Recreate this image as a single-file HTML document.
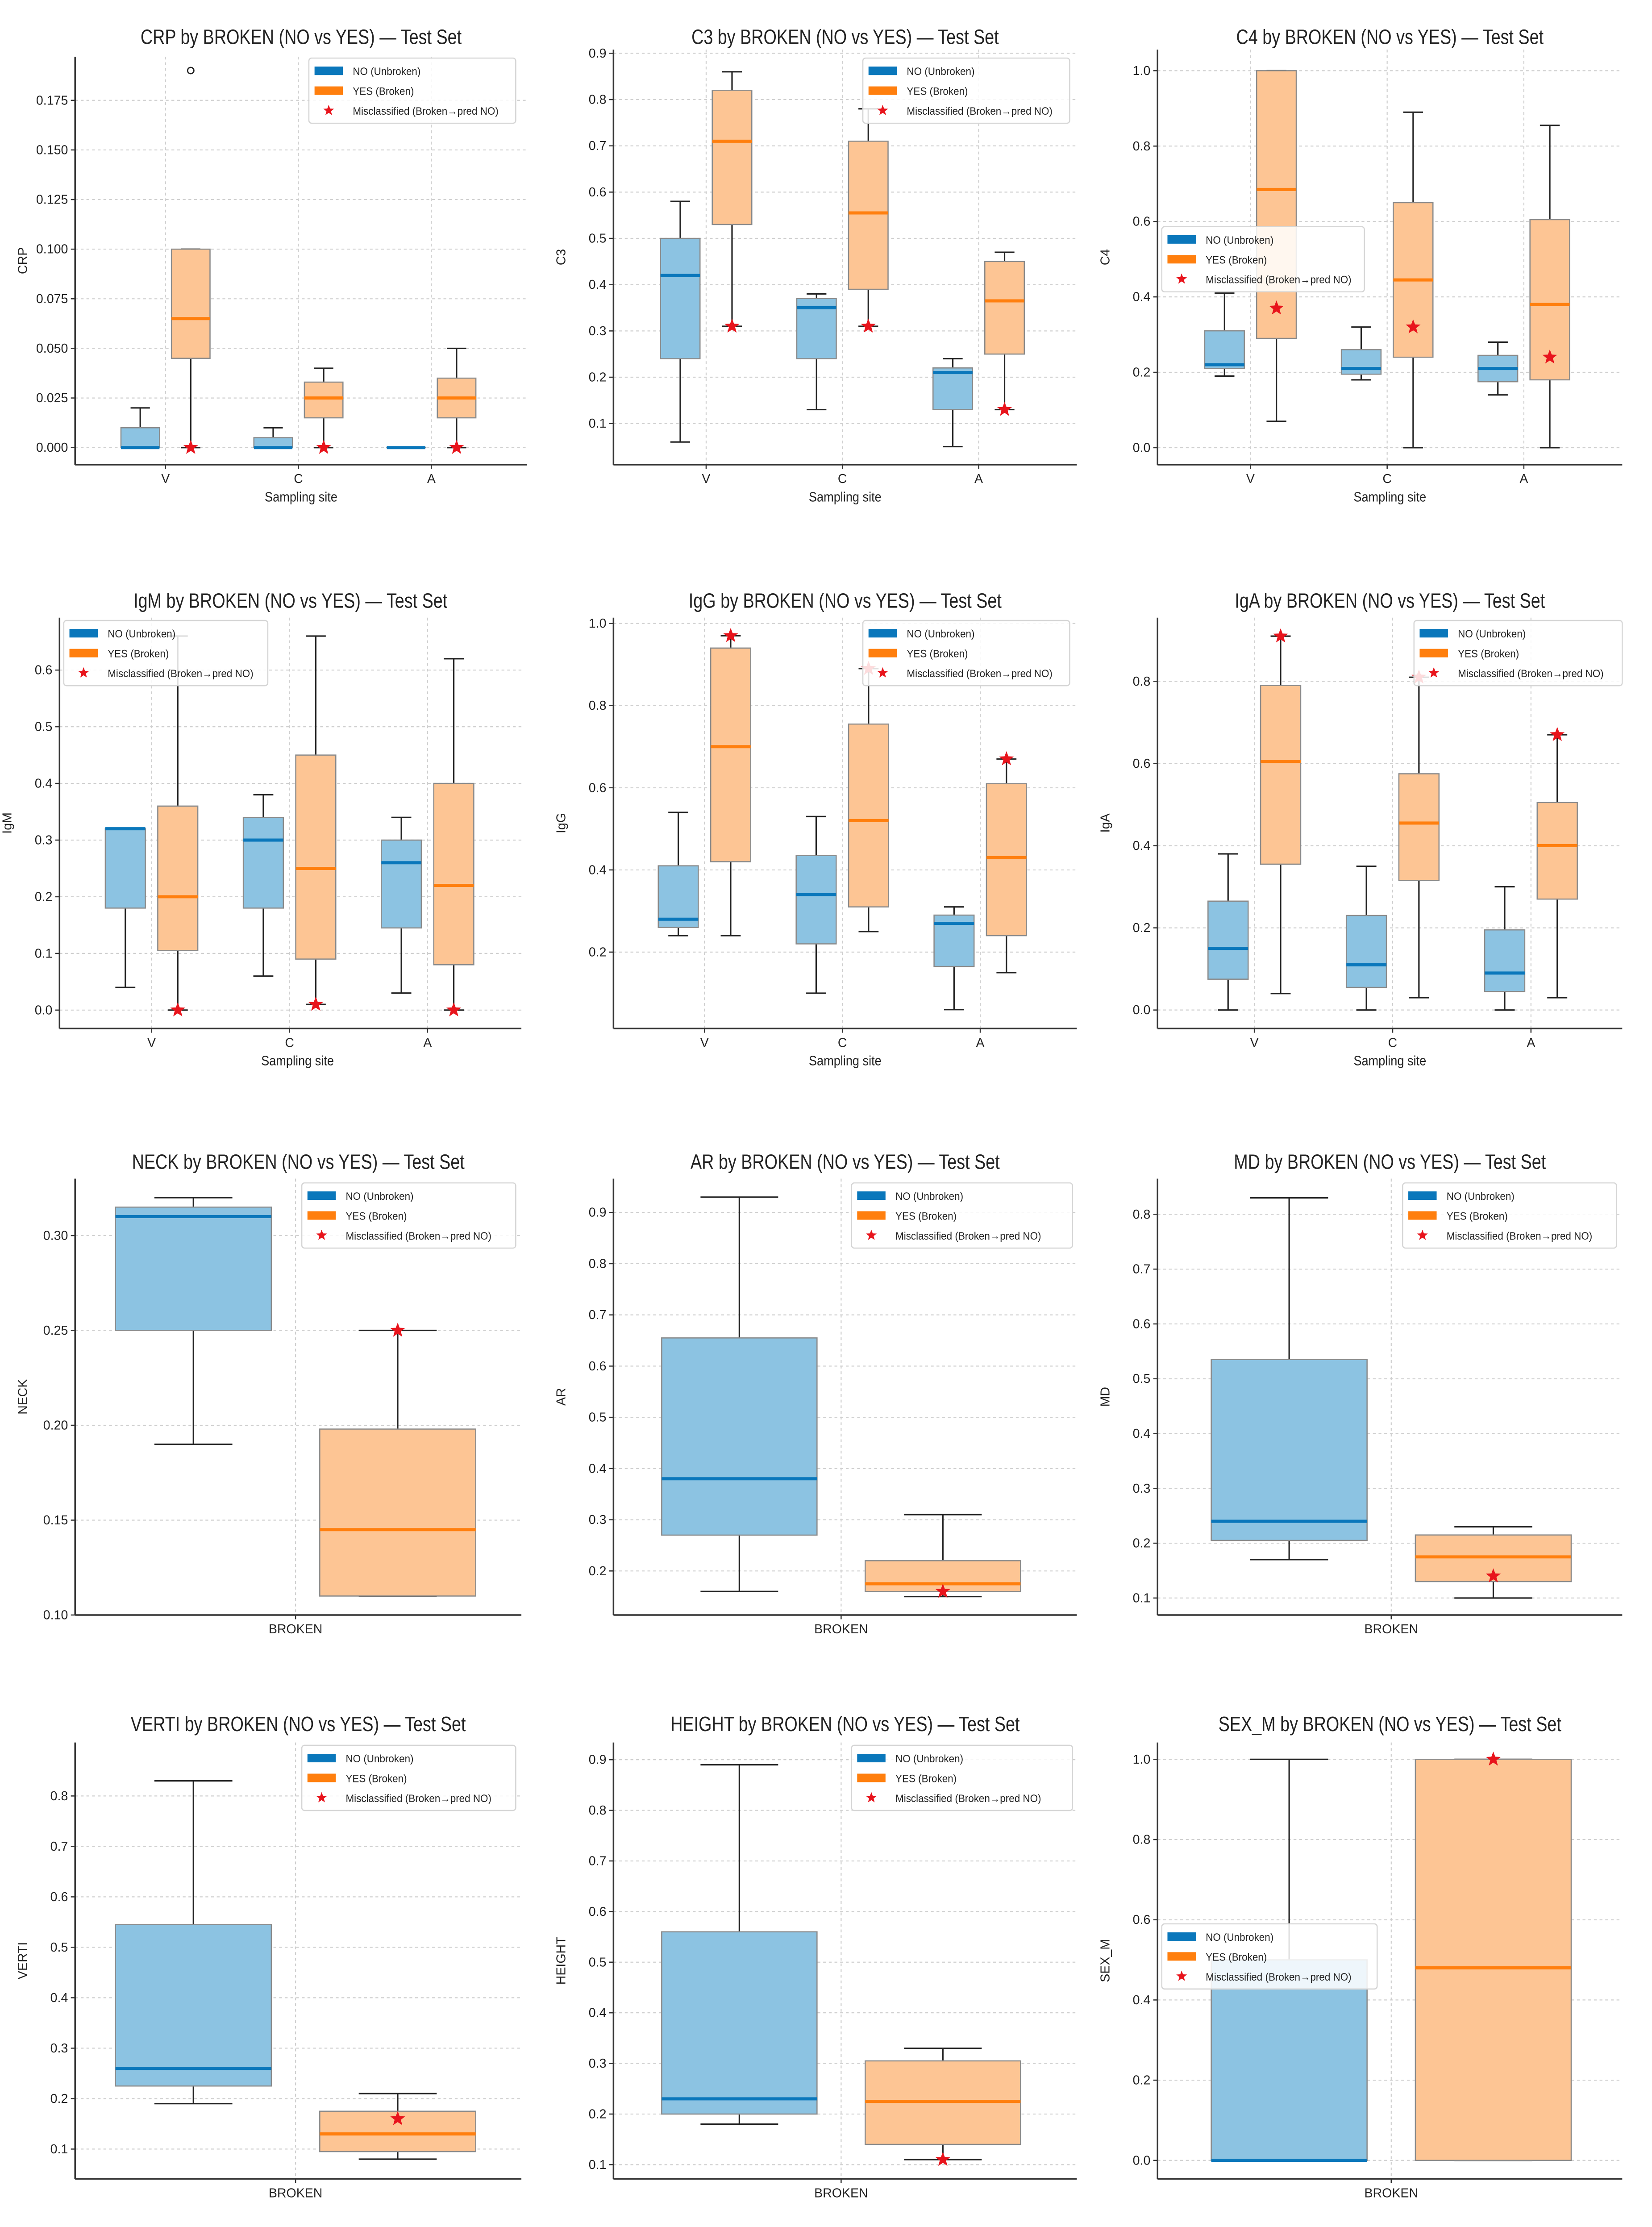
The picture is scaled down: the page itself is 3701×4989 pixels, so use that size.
<!DOCTYPE html>
<html><head><meta charset="utf-8"><style>
html,body{margin:0;padding:0;background:#fff}
svg{display:block}
text{font-family:"Liberation Sans",sans-serif}
</style></head><body>
<svg id="fig" xmlns="http://www.w3.org/2000/svg" width="3701" height="4989" viewBox="0 0 1166 1572" preserveAspectRatio="none"></svg>
<script>
// ---- data (stats: [whiskerLow, q1, median, q3, whiskerHigh]) ----
const sites = ["V","C","A"];
const single = ["BROKEN"];
const crpNo = [[0,0,0,0.01,0.02],[0,0,0,0.005,0.01],[0,0,0,0,0]];
const crpYes = [[0,0.045,0.065,0.1,0.1],[0,0.015,0.025,0.033,0.04],[0,0.015,0.025,0.035,0.05]];
const crpStars = [0,0,0];
const crpOutliers = [[0,0.19]];
const crpTicks = [0,0.025,0.05,0.075,0.1,0.125,0.15,0.175];
const c3No = [[0.06,0.24,0.42,0.5,0.58],[0.13,0.24,0.35,0.37,0.38],[0.05,0.13,0.21,0.22,0.24]];
const c3Yes = [[0.31,0.53,0.71,0.82,0.86],[0.31,0.39,0.555,0.71,0.78],[0.13,0.25,0.365,0.45,0.47]];
const c3Stars = [0.31,0.31,0.13];
const c3Ticks = [0.1,0.2,0.3,0.4,0.5,0.6,0.7,0.8,0.9];
const c4No = [[0.19,0.21,0.22,0.31,0.41],[0.18,0.195,0.21,0.26,0.32],[0.14,0.175,0.21,0.245,0.28]];
const c4Yes = [[0.07,0.29,0.685,1.0,1.0],[0,0.24,0.445,0.65,0.89],[0,0.18,0.38,0.605,0.855]];
const c4Stars = [0.37,0.32,0.24];
const c4Ticks = [0,0.2,0.4,0.6,0.8,1.0];
const igmNo = [[0.04,0.18,0.32,0.32,0.32],[0.06,0.18,0.30,0.34,0.38],[0.03,0.145,0.26,0.30,0.34]];
const igmYes = [[0,0.105,0.2,0.36,0.66],[0.01,0.09,0.25,0.45,0.66],[0,0.08,0.22,0.40,0.62]];
const igmStars = [0,0.01,0];
const igmTicks = [0,0.1,0.2,0.3,0.4,0.5,0.6];
const iggNo = [[0.24,0.26,0.28,0.41,0.54],[0.10,0.22,0.34,0.435,0.53],[0.06,0.165,0.27,0.29,0.31]];
const iggYes = [[0.24,0.42,0.70,0.94,0.97],[0.25,0.31,0.52,0.755,0.89],[0.15,0.24,0.43,0.61,0.67]];
const iggStars = [0.97,0.89,0.67];
const iggTicks = [0.2,0.4,0.6,0.8,1.0];
const igaNo = [[0,0.075,0.15,0.265,0.38],[0,0.055,0.11,0.23,0.35],[0,0.045,0.09,0.195,0.30]];
const igaYes = [[0.04,0.355,0.605,0.79,0.91],[0.03,0.315,0.455,0.575,0.81],[0.03,0.27,0.40,0.505,0.67]];
const igaStars = [0.91,0.81,0.67];
const igaTicks = [0,0.2,0.4,0.6,0.8];
const neckNo = [[0.19,0.25,0.31,0.315,0.32]];
const neckYes = [[0.11,0.11,0.145,0.198,0.25]];
const neckStars = [0.25];
const neckTicks = [0.10,0.15,0.20,0.25,0.30];
const arNo = [[0.16,0.27,0.38,0.655,0.93]];
const arYes = [[0.15,0.16,0.175,0.22,0.31]];
const arStars = [0.16];
const arTicks = [0.2,0.3,0.4,0.5,0.6,0.7,0.8,0.9];
const mdNo = [[0.17,0.205,0.24,0.535,0.83]];
const mdYes = [[0.10,0.13,0.175,0.215,0.23]];
const mdStars = [0.14];
const mdTicks = [0.1,0.2,0.3,0.4,0.5,0.6,0.7,0.8];
const vertiNo = [[0.19,0.225,0.26,0.545,0.83]];
const vertiYes = [[0.08,0.095,0.13,0.175,0.21]];
const vertiStars = [0.16];
const vertiTicks = [0.1,0.2,0.3,0.4,0.5,0.6,0.7,0.8];
const heightNo = [[0.18,0.20,0.23,0.56,0.89]];
const heightYes = [[0.11,0.14,0.225,0.305,0.33]];
const heightStars = [0.11];
const heightTicks = [0.1,0.2,0.3,0.4,0.5,0.6,0.7,0.8,0.9];
const sexNo = [[0,0,0,0.5,1]];
const sexYes = [[0,0,0.48,1.0,1.0]];
const sexStars = [1.0];
const sexTicks = [0,0.2,0.4,0.6,0.8,1.0];

// ---- layout ----
const charts = [
 {name:"crp",title:"CRP",cats:sites,no:crpNo,yes:crpYes,stars:crpStars,outl:crpOutliers,ticks:crpTicks,dec:3,ylim:[-0.0086,0.197],box:[53,40,372,328],ty:31,xlim:[-0.68,2.72],leg:[218,41,146]},
 {name:"c3",title:"C3",cats:sites,no:c3No,yes:c3Yes,stars:c3Stars,ticks:c3Ticks,dec:1,ylim:[0.011,0.908],box:[433,35,760,328],ty:31,xlim:[-0.68,2.72],leg:[609,41,146]},
 {name:"c4",title:"C4",cats:sites,no:c4No,yes:c4Yes,stars:c4Stars,ticks:c4Ticks,dec:1,ylim:[-0.045,1.056],box:[817,35,1145,328],ty:31,xlim:[-0.68,2.72],leg:[820,160,143]},
 {name:"igm",title:"IgM",cats:sites,no:igmNo,yes:igmYes,stars:igmStars,ticks:igmTicks,dec:1,ylim:[-0.0325,0.6925],box:[42,436,368,726],ty:429,xlim:[-0.667,2.68],leg:[45,438,144]},
 {name:"igg",title:"IgG",cats:sites,no:iggNo,yes:iggYes,stars:iggStars,ticks:iggTicks,dec:1,ylim:[0.014,1.014],box:[433,436,760,726],ty:429,xlim:[-0.66,2.7],leg:[609,438,146]},
 {name:"iga",title:"IgA",cats:sites,no:igaNo,yes:igaYes,stars:igaStars,ticks:igaTicks,dec:1,ylim:[-0.045,0.955],box:[817,436,1145,726],ty:429,xlim:[-0.7,2.66],leg:[998,438,147]},
 {name:"neck",title:"NECK",cats:single,no:neckNo,yes:neckYes,stars:neckStars,ticks:neckTicks,dec:2,ylim:[0.10,0.33],box:[53,832,368,1140],ty:825,xlim:[-0.41,0.42],leg:[213,835,151]},
 {name:"ar",title:"AR",cats:single,no:arNo,yes:arYes,stars:arStars,ticks:arTicks,dec:1,ylim:[0.114,0.966],box:[433,832,760,1140],ty:825,xlim:[-0.425,0.44],leg:[601,835,156]},
 {name:"md",title:"MD",cats:single,no:mdNo,yes:mdYes,stars:mdStars,ticks:mdTicks,dec:1,ylim:[0.069,0.865],box:[817,832,1145,1140],ty:825,xlim:[-0.435,0.43],leg:[990,835,151]},
 {name:"verti",title:"VERTI",cats:single,no:vertiNo,yes:vertiYes,stars:vertiStars,ticks:vertiTicks,dec:1,ylim:[0.041,0.906],box:[53,1230,368,1538],ty:1222,xlim:[-0.41,0.42],leg:[213,1232,151]},
 {name:"height",title:"HEIGHT",cats:single,no:heightNo,yes:heightYes,stars:heightStars,ticks:heightTicks,dec:1,ylim:[0.072,0.934],box:[433,1230,760,1538],ty:1222,xlim:[-0.425,0.44],leg:[601,1232,156]},
 {name:"sex-m",title:"SEX_M",cats:single,no:sexNo,yes:sexYes,stars:sexStars,ticks:sexTicks,dec:1,ylim:[-0.046,1.042],box:[817,1230,1145,1538],ty:1222,xlim:[-0.435,0.43],leg:[820,1358,152]}
];
const NS="http://www.w3.org/2000/svg";
const svg=document.getElementById('fig');
function mk(tag,attrs,parent,txt){const e=document.createElementNS(NS,tag);for(const k in attrs)e.setAttribute(k,attrs[k]);if(txt!==undefined)e.textContent=txt;parent.appendChild(e);return e;}
function squeeze(el,f){const w=el.getComputedTextLength();if(w>0){el.setAttribute('textLength',(w*f).toFixed(2));el.setAttribute('lengthAdjust','spacingAndGlyphs');}}
function starPts(cx,cy,r){let p=[];for(let i=0;i<10;i++){const a=-Math.PI/2+i*Math.PI/5;const rr=i%2?r*0.42:r;p.push((cx+rr*Math.cos(a)).toFixed(2)+","+(cy+rr*Math.sin(a)).toFixed(2));}return p.join(" ");}

charts.forEach(c=>{
 const [L,T,R,B]=c.box;
 const g=mk('g',{},svg);
 
 
 const Y=v=>B-(v-c.ylim[0])/(c.ylim[1]-c.ylim[0])*(B-T);
 const X=v=>L+(v-c.xlim[0])/(c.xlim[1]-c.xlim[0])*(R-L);
 const pxu=(R-L)/(c.xlim[1]-c.xlim[0]);
 // title
 const t=mk('text',{x:(L+R)/2,y:c.ty,'text-anchor':'middle','font-size':14.5,fill:'#222'},g,c.title+" by BROKEN (NO vs YES) \u2014 Test Set");
 
 
 squeeze(t,0.82);
 // y grid & ticks
 c.ticks.forEach(v=>{
  const y=Y(v);
  mk('line',{x1:L,x2:R,y1:y,y2:y,stroke:'#cfcfcf','stroke-width':0.7,'stroke-dasharray':'2,2'},g);
  mk('line',{x1:L-3,x2:L,y1:y,y2:y,stroke:'#333','stroke-width':0.8},g);
  const tl=mk('text',{x:L-5,y:y+3,'text-anchor':'end','font-size':9,fill:'#222'},g,v.toFixed(c.dec));
  
  
 });
 // x grid & ticks
 c.cats.forEach((cat,i)=>{
  const x=X(i);
  mk('line',{x1:x,x2:x,y1:T,y2:B,stroke:'#cfcfcf','stroke-width':0.7,'stroke-dasharray':'2,2'},g);
  mk('line',{x1:x,x2:x,y1:B,y2:B+3,stroke:'#333','stroke-width':0.8},g);
  const xl=mk('text',{x:x,y:B+13,'text-anchor':'middle','font-size':9,fill:'#222'},g,cat);
  
  
 });
 // boxes
 const off=0.19, w=0.29;
 const drawBox=(s,cx,fill,medc,nm)=>{
  const bg=mk('g',{},g);
  
  
  const hw=w*pxu/2, cw=hw/2, x=X(cx);
  mk('line',{x1:x,x2:x,y1:Y(s[0]),y2:Y(s[1]),stroke:'#222','stroke-width':1},bg);
  mk('line',{x1:x,x2:x,y1:Y(s[3]),y2:Y(s[4]),stroke:'#222','stroke-width':1},bg);
  mk('line',{x1:x-cw,x2:x+cw,y1:Y(s[0]),y2:Y(s[0]),stroke:'#222','stroke-width':1},bg);
  mk('line',{x1:x-cw,x2:x+cw,y1:Y(s[4]),y2:Y(s[4]),stroke:'#222','stroke-width':1},bg);
  mk('rect',{x:x-hw,y:Y(s[3]),width:2*hw,height:Math.max(0.01,Y(s[1])-Y(s[3])),fill:fill,stroke:'#8a8a8a','stroke-width':0.8},bg);
  mk('line',{x1:x-hw,x2:x+hw,y1:Y(s[2]),y2:Y(s[2]),stroke:medc,'stroke-width':2.2},bg);
 };
 c.cats.forEach((cat,i)=>{
  drawBox(c.no[i],i-off,'#8cc3e2','#0a77bb','no-box-'+cat.toLowerCase());
  drawBox(c.yes[i],i+off,'#fdc594','#ff7f0e','yes-box-'+cat.toLowerCase());
 });
 (c.outl||[]).forEach(o=>{
  const oc=mk('circle',{cx:X(o[0]+off),cy:Y(o[1]),r:2.2,fill:'none',stroke:'#222','stroke-width':0.9},g);
  
  
 });
 c.stars.forEach((v,i)=>{
  const st=mk('polygon',{points:starPts(X(i+off),Y(v),5.5),fill:'#e8141c'},g);
  
  
 });
 // spines
 mk('line',{x1:L,x2:L,y1:T,y2:B,stroke:'#333','stroke-width':1.1},g);
 mk('line',{x1:L,x2:R,y1:B,y2:B,stroke:'#333','stroke-width':1.1},g);
 // axis labels
 const yl=mk('text',{x:0,y:0,transform:`translate(${L-34},${(T+B)/2}) rotate(-90)`,'text-anchor':'middle','font-size':9,fill:'#222'},g,c.title);
 
 
 if(c.cats.length>1){
  const xt=mk('text',{x:(L+R)/2+ (c.name==='igm'?5:0),y:B+26,'text-anchor':'middle','font-size':9.5,fill:'#222'},g,'Sampling site');
  
  
  squeeze(xt,0.9);
 }
 // legend
 const [lx,ly,lw]=c.leg;
 const lg=mk('g',{},g);
 
 
 mk('rect',{x:lx,y:ly,width:lw,height:46,fill:'#fff','fill-opacity':0.85,stroke:'#d5d5d5','stroke-width':0.8,rx:2},lg);
 const items=[['NO (Unbroken)','#0a77bb'],['YES (Broken)','#ff7f0e'],['Misclassified (Broken\u2192pred NO)',null]];
 items.forEach((it,k)=>{
  const yy=ly+9+k*14;
  if(it[1]) mk('rect',{x:lx+4,y:yy-3,width:20,height:6,fill:it[1]},lg);
  else mk('polygon',{points:starPts(lx+14,yy,4),fill:'#e8141c'},lg);
  const lt=mk('text',{x:lx+31,y:yy+3,'font-size':7.6,fill:'#222'},lg,it[0]);
  
  
  squeeze(lt,0.93);
 });
});
</script>
</body></html>
